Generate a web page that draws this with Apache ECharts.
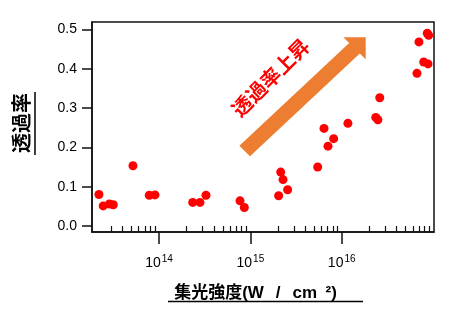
<!DOCTYPE html>
<html><head><meta charset="utf-8">
<script src="https://cdn.jsdelivr.net/npm/echarts@6/dist/echarts.min.js"></script>
<style>html,body{margin:0;padding:0;background:#fff}#c{width:460px;height:322px}</style>
</head><body><div id="c"></div>
<script>
// Data: light intensity (W/cm^2) and transmittance
const intensity = [2.20e13, 2.45e13, 2.86e13, 3.16e13, 5.19e13, 7.83e13, 9.04e13,
  2.34e14, 2.81e14, 3.27e14, 7.71e14, 8.59e14,
  2.04e15, 2.15e15, 2.28e15, 2.56e15, 5.46e15, 6.40e15, 7.08e15, 8.17e15,
  1.17e16, 2.36e16, 2.49e16, 2.61e16, 6.67e16, 7.01e16, 7.91e16, 8.81e16, 8.65e16, 8.95e16];
const transmittance = [0.080, 0.051, 0.056, 0.054, 0.153, 0.078, 0.079,
  0.060, 0.060, 0.078, 0.064, 0.047,
  0.077, 0.137, 0.118, 0.092, 0.150, 0.248, 0.203, 0.222,
  0.261, 0.276, 0.270, 0.326, 0.388, 0.468, 0.417, 0.412, 0.490, 0.485];
const xMajorTicks = [1e14, 1e15, 1e16];
const xMinorTicks = [3e13, 4e13, 5e13, 6e13, 7e13, 8e13, 9e13,
  2e14, 3e14, 4e14, 5e14, 6e14, 7e14, 8e14, 9e14,
  2e15, 3e15, 4e15, 5e15, 6e15, 7e15, 8e15, 9e15,
  2e16, 3e16, 4e16, 5e16, 6e16, 7e16, 8e16, 9e16];
const yTicks = [0, 0.1, 0.2, 0.3, 0.4, 0.5];
const xName = '集光強度(W\u2002\u2009/\u2002\u2009cm\u2002²)';
const yName = '透過率';
const noteText = '透過率上昇';

const lg = v => Math.log10(v);
const xMin = 13.2666, xMax = 17.0105;
const yMin = -0.0153, yMax = 0.5186;
const latin = 'Liberation Sans, Arial, sans-serif';
const cjk = 'Liberation Sans, "Noto Sans CJK JP", sans-serif';

const chart = echarts.init(document.getElementById('c'), null, {renderer: 'canvas'});
chart.setOption({
  animation: false,
  backgroundColor: '#fff',
  grid: {left: 92, top: 22, right: 26, bottom: 90, show: true, borderColor: '#111', borderWidth: 1.5},
  xAxis: [{
    type: 'value', min: xMin, max: xMax, position: 'bottom',
    name: xName, nameLocation: 'middle', nameGap: 53,
    nameTextStyle: {fontFamily: cjk, fontWeight: 'bold', fontSize: 17, color: '#000', padding: [0, 15, 0, 0]},
    axisLine: {show: true, onZero: false, lineStyle: {color: '#111', width: 1.5}},
    axisTick: {show: true, length: 12, lineStyle: {color: '#111', width: 1.5}, customValues: xMajorTicks.map(lg)},
    axisLabel: {
      margin: 22, customValues: xMajorTicks.map(lg),
      formatter: v => '{b|10}{s|' + Math.round(v) + '}',
      rich: {
        b: {fontFamily: latin, fontSize: 14, color: '#000'},
        s: {fontFamily: latin, fontSize: 10, color: '#000', padding: [0, 0, 8, 1]}
      }
    },
    splitLine: {show: false}
  }, {
    type: 'value', min: xMin, max: xMax, position: 'bottom', offset: 0,
    axisLine: {show: false},
    axisTick: {show: true, length: 6, lineStyle: {color: '#111', width: 1.2}, customValues: xMinorTicks.map(lg)},
    axisLabel: {show: false},
    splitLine: {show: false}
  }],
  yAxis: {
    type: 'value', min: yMin, max: yMax,
    name: yName, nameLocation: 'middle', nameGap: 59, nameRotate: 90,
    nameTextStyle: {fontFamily: cjk, fontWeight: 'bold', fontSize: 20, color: '#000', padding: [0, 0, 0, 8]},
    axisLine: {show: true, onZero: false, lineStyle: {color: '#111', width: 1.5}},
    axisTick: {show: true, length: 10, lineStyle: {color: '#111', width: 1.5}, customValues: yTicks},
    axisLabel: {margin: 15, customValues: yTicks, formatter: v => v.toFixed(1),
      fontFamily: latin, fontSize: 14, color: '#000'},
    splitLine: {show: false}
  },
  series: [{
    type: 'scatter', xAxisIndex: 0,
    data: intensity.map((v, i) => [lg(v), transmittance[i]]),
    symbol: 'circle', symbolSize: 9,
    itemStyle: {color: '#ff0000', opacity: 1}
  }],
  graphic: [
    {type: 'polygon', shape: {points: [[239.4,145.7],[349.2,43.0],[343.3,37.3],[365.7,37.3],[365.7,59.3],[359.8,53.6],[250,156.3]]},
      style: {fill: '#ED7D31'}, z: 1},
    {type: 'text', x: 272, y: 79, rotation: Math.PI / 4, originX: 0, originY: 0,
      style: {text: noteText, fill: '#ff0000', font: 'bold 20px ' + cjk, align: 'center', verticalAlign: 'middle'}, z: 2},
    {type: 'line', shape: {x1: 168, y1: 301.5, x2: 363, y2: 301.5}, style: {stroke: '#000', lineWidth: 1.5}},
    {type: 'line', shape: {x1: 35, y1: 92, x2: 35, y2: 155}, style: {stroke: '#000', lineWidth: 1.5}}
  ]
});
</script></body></html>
